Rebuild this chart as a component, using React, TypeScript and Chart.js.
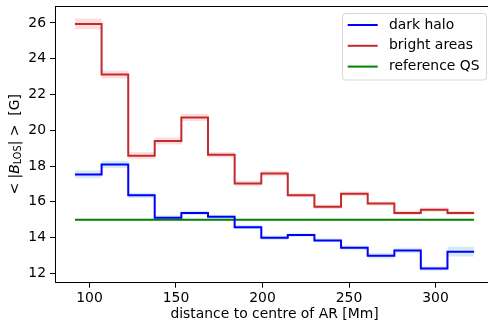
import React, { useEffect, useRef } from "react";
import { Chart, registerables } from "chart.js";

Chart.register(...registerables);

// bin edges [Mm]
const EDGES = [91.6, 107.0, 122.4, 137.7, 153.1, 168.5, 183.9, 199.3, 214.6, 230.0, 245.4, 260.8, 276.2, 291.5, 306.9, 322.3];
// mean |B_LOS| per bin [G]
const BRIGHT = [25.95, 23.12, 18.58, 19.4, 20.72, 18.63, 17.02, 17.58, 16.37, 15.72, 16.45, 15.9, 15.38, 15.56, 15.38];
const BRIGHT_ERR = [0.3, 0.22, 0.2, 0.2, 0.2, 0.15, 0.15, 0.15, 0.12, 0.12, 0.12, 0.12, 0.12, 0.12, 0.12];
const DARK = [17.53, 18.09, 16.36, 15.11, 15.38, 15.16, 14.58, 13.99, 14.14, 13.84, 13.43, 12.98, 13.28, 12.27, 13.21];
const DARK_ERR = [0.22, 0.2, 0.15, 0.12, 0.12, 0.1, 0.12, 0.12, 0.1, 0.1, 0.12, 0.15, 0.15, 0.12, 0.27];
const QS_LEVEL = 15.0;
const X_TICKS = [100, 150, 200, 250, 300];
const Y_TICKS = [12, 14, 16, 18, 20, 22, 24, 26];

const FONT = "DejaVu Sans";
const FS = 13.9;

const BLUE = "#0000ff";
const RED = "#c22a2d";
const GREEN = "#008000";

function stepPts(vals: number[], off: number[] | null, sign: number) {
  return EDGES.map((x, i) => {
    const k = Math.min(i, vals.length - 1);
    return { x, y: vals[k] + (off ? sign * off[k] : 0) };
  });
}

const legendPlugin = {
  id: "customLegend",
  afterDraw(chart: any) {
    const ctx = chart.ctx;
    const items = chart.data.datasets.filter((d: any) => d.showInLegend);
    const x0 = 342.5, y0 = 13.5, w = 144, h = 66.5, r = 3;
    ctx.save();
    ctx.beginPath();
    ctx.moveTo(x0 + r, y0);
    ctx.lineTo(x0 + w - r, y0);
    ctx.arcTo(x0 + w, y0, x0 + w, y0 + r, r);
    ctx.lineTo(x0 + w, y0 + h - r);
    ctx.arcTo(x0 + w, y0 + h, x0 + w - r, y0 + h, r);
    ctx.lineTo(x0 + r, y0 + h);
    ctx.arcTo(x0, y0 + h, x0, y0 + h - r, r);
    ctx.lineTo(x0, y0 + r);
    ctx.arcTo(x0, y0, x0 + r, y0, r);
    ctx.closePath();
    ctx.fillStyle = "rgba(255,255,255,0.8)";
    ctx.fill();
    ctx.strokeStyle = "#d6d6d6";
    ctx.lineWidth = 1;
    ctx.stroke();
    ctx.font = `${FS}px "${FONT}"`;
    ctx.textBaseline = "middle";
    ctx.textAlign = "left";
    items.forEach((d: any, i: number) => {
      const yc = 25 + i * 20.8;
      ctx.strokeStyle = d.borderColor;
      ctx.lineWidth = 2;
      ctx.beginPath();
      ctx.moveTo(347.7, yc);
      ctx.lineTo(377.7, yc);
      ctx.stroke();
      ctx.fillStyle = "#000";
      ctx.fillText(d.label, 389, yc);
    });
    ctx.restore();
  },
};

const framePlugin = {
  id: "frameAndTitle",
  afterDraw(chart: any) {
    const ctx = chart.ctx;
    const a = chart.chartArea;
    ctx.save();
    // top and right spines
    ctx.strokeStyle = "#000";
    ctx.lineWidth = 1;
    ctx.beginPath();
    ctx.moveTo(a.left, Math.round(a.top) + 0.5);
    ctx.lineTo(Math.round(a.right) + 0.5, Math.round(a.top) + 0.5);
    ctx.lineTo(Math.round(a.right) + 0.5, a.bottom);
    ctx.stroke();
    // y title with subscript
    const parts = [
      { t: "< |", f: `${FS}px "${FONT}"`, dy: 0 },
      { t: "B", f: `italic ${FS}px "${FONT}"`, dy: 0 },
      { t: "LOS", f: `${FS * 0.7}px "${FONT}"`, dy: 3 },
      { t: "| >  [G]", f: `${FS}px "${FONT}"`, dy: 0 },
    ];
    let total = 0;
    parts.forEach((p) => {
      ctx.font = p.f;
      total += ctx.measureText(p.t).width;
    });
    const cy = (a.top + a.bottom) / 2;
    ctx.translate(15.5, cy);
    ctx.rotate(-Math.PI / 2);
    ctx.fillStyle = "#000";
    ctx.textBaseline = "middle";
    ctx.textAlign = "left";
    let x = -total / 2;
    parts.forEach((p) => {
      ctx.font = p.f;
      ctx.fillText(p.t, x, p.dy);
      x += ctx.measureText(p.t).width;
    });
    ctx.restore();
  },
};

export default function App() {
  const ref = useRef<HTMLCanvasElement>(null);
  useEffect(() => {
    if (!ref.current) return;
    const common = { pointRadius: 0, stepped: true, showInLegend: false };
    const chart = new Chart(ref.current, {
      type: "line",
      data: {
        datasets: [
          { ...common, label: "bright_lo", data: stepPts(BRIGHT, BRIGHT_ERR, -1), borderWidth: 0, borderColor: "rgba(0,0,0,0)", fill: false, order: 10 },
          { ...common, label: "bright_hi", data: stepPts(BRIGHT, BRIGHT_ERR, 1), borderWidth: 0, borderColor: "rgba(0,0,0,0)", backgroundColor: "rgba(255,0,0,0.13)", fill: "-1", order: 10 },
          { ...common, label: "dark_lo", data: stepPts(DARK, DARK_ERR, -1), borderWidth: 0, borderColor: "rgba(0,0,0,0)", fill: false, order: 10 },
          { ...common, label: "dark_hi", data: stepPts(DARK, DARK_ERR, 1), borderWidth: 0, borderColor: "rgba(0,0,0,0)", backgroundColor: "rgba(173,216,230,0.5)", fill: "-1", order: 10 },
          { ...common, showInLegend: true, label: "dark halo", data: stepPts(DARK, null, 0), borderColor: BLUE, borderWidth: 2, fill: false, order: 1 },
          { ...common, showInLegend: true, label: "bright areas", data: stepPts(BRIGHT, null, 0), borderColor: RED, borderWidth: 2, fill: false, order: 1 },
          { ...common, showInLegend: true, label: "reference QS", data: [{ x: EDGES[0], y: QS_LEVEL }, { x: EDGES[EDGES.length - 1], y: QS_LEVEL }], borderColor: GREEN, borderWidth: 2, fill: false, order: 1 },
        ] as any,
      },
      options: {
        responsive: false,
        animation: false,
        layout: { padding: { left: 0, top: 6, right: 6, bottom: 0 } },
        plugins: { legend: { display: false }, tooltip: { enabled: false } },
        scales: {
          x: {
            type: "linear",
            min: 80.07,
            max: 333.8,
            afterBuildTicks: (s: any) => { s.ticks = X_TICKS.map((v) => ({ value: v })); },
            afterFit: (s: any) => { s.height = 40.3; s.paddingLeft = 0; s.paddingRight = 0; },
            grid: { drawOnChartArea: false, drawTicks: true, tickLength: 5, tickColor: "#000", tickWidth: 1 },
            border: { display: true, color: "#000", width: 1 },
            ticks: { color: "#000", padding: 2, font: { family: FONT, size: FS }, maxRotation: 0 },
            title: { display: true, text: "distance to centre of AR [Mm]", color: "#000", font: { family: FONT, size: FS }, padding: { top: 0, bottom: 0 } },
          },
          y: {
            type: "linear",
            min: 11.475,
            max: 26.95,
            afterBuildTicks: (s: any) => { s.ticks = Y_TICKS.map((v) => ({ value: v })); },
            afterFit: (s: any) => { s.width = 55; s.paddingTop = 0; s.paddingBottom = 0; },
            grid: { drawOnChartArea: false, drawTicks: true, tickLength: 5, tickColor: "#000", tickWidth: 1 },
            border: { display: true, color: "#000", width: 1 },
            ticks: { color: "#000", padding: 4, font: { family: FONT, size: FS } },
          },
        },
      } as any,
      plugins: [framePlugin, legendPlugin],
    });
    return () => chart.destroy();
  }, []);
  return (
    <div style={{ position: "fixed", left: 0, top: 0, width: 488, height: 323, background: "#fff", overflow: "hidden" }}>
      <canvas ref={ref} width={500} height={323} style={{ display: "block" }} />
    </div>
  );
}
